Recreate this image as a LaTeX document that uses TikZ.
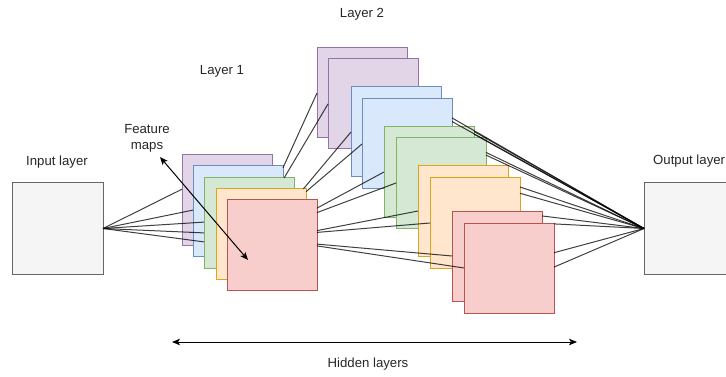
\documentclass[tikz,border=0pt]{standalone}
\usepackage{fontspec}
\setmainfont{Liberation Sans}
\usetikzlibrary{calc,arrows.meta}

\definecolor{grayfill}{HTML}{F5F5F5}
\definecolor{graydraw}{HTML}{666666}
\definecolor{purplefill}{HTML}{E1D5E7}
\definecolor{purpledraw}{HTML}{9673A6}
\definecolor{bluefill}{HTML}{DAE8FC}
\definecolor{bluedraw}{HTML}{6C8EBF}
\definecolor{greenfill}{HTML}{D5E8D4}
\definecolor{greendraw}{HTML}{82B366}
\definecolor{orangefill}{HTML}{FFE6CC}
\definecolor{orangedraw}{HTML}{DCA520}
\definecolor{redfill}{HTML}{F8CECC}
\definecolor{reddraw}{HTML}{B85450}

\tikzset{
  fmap/.style={draw, line width=1pt, anchor=north west, inner sep=0pt, outer sep=0pt,
    minimum width=90pt, minimum height=90pt},
  pmap/.style={fmap, fill=purplefill, draw=purpledraw},
  bmap/.style={fmap, fill=bluefill, draw=bluedraw},
  gmap/.style={fmap, fill=greenfill, draw=greendraw},
  omap/.style={fmap, fill=orangefill, draw=orangedraw},
  rmap/.style={fmap, fill=redfill, draw=reddraw},
  iobox/.style={fmap, fill=grayfill, draw=graydraw, minimum width=91pt, minimum height=91pt},
  link/.style={draw=black, draw opacity=0.75, line width=1pt},
  label/.style={font=\fontsize{13.2}{15.5}\selectfont, text=black!85, inner sep=0pt, align=center},
  tips/.style={line width=1pt, {Stealth[length=8pt,width=6.5pt,inset=2pt]}-{Stealth[length=8pt,width=6.5pt,inset=2pt]}}
}

\begin{document}
\begin{tikzpicture}[x=1pt,y=-1pt]
\path[use as bounding box] (0,0) rectangle (726,377);
\clip (0,0) rectangle (726,377);

% input and output layers
\node[iobox] (in)  at (12,183) {};
\node[iobox] (out) at (644,183) {};

% layer 1 feature maps
\node[pmap] (l1p) at (182,155) {};
\node[bmap] (l1b) at (193,166) {};
\node[gmap] (l1g) at (204,178) {};
\node[omap] (l1o) at (216,189) {};
\node[rmap] (l1r) at (227,200) {};

% layer 2 feature maps
\node[pmap] (l2p1) at (317,48) {};
\node[pmap] (l2p2) at (328,59) {};
\node[bmap] (l2b1) at (351,87) {};
\node[bmap] (l2b2) at (362,99) {};
\node[gmap] (l2g1) at (384,127) {};
\node[gmap] (l2g2) at (396,138) {};
\node[omap] (l2o1) at (418,166) {};
\node[omap] (l2o2) at (430,178) {};
\node[rmap] (l2r1) at (452,211) {};
\node[rmap] (l2r2) at (464,223) {};

% input layer to layer 1
\draw[link] (in.east) -- ($(l1p.north west)!0.38!(l1p.south west)$);
\draw[link] (in.east) -- ($(l1b.north west)!0.49!(l1b.south west)$);
\draw[link] (in.east) -- ($(l1g.north west)!0.49!(l1g.south west)$);
\draw[link] (in.east) -- ($(l1g.north west)!0.61!(l1g.south west)$);
\draw[link] (in.east) -- ($(l1g.north west)!0.71!(l1g.south west)$);

% layer 1 to layer 2
\draw[link] ($(l1b.north east)!0.02!(l1b.south east)$) -- (l2p1.west);
\draw[link] ($(l1g.north west)!0.89!(l1g.north east)$) -- (l2p2.west);
\draw[link] ($(l1o.north west)!0.97!(l1o.north east)$) -- (l2b1.west);
\draw[link] ($(l1o.north east)!0.03!(l1o.south east)$) -- (l2b2.west);
\draw[link] ($(l1r.north east)!0.09!(l1r.south east)$) -- (l2g1.west);
\draw[link] ($(l1r.north east)!0.14!(l1r.south east)$) -- (l2g2.west);
\draw[link] ($(l1r.north east)!0.34!(l1r.south east)$) -- (l2o1.west);
\draw[link] ($(l1r.north east)!0.36!(l1r.south east)$) -- (l2o2.west);
\draw[link] ($(l1r.north east)!0.49!(l1r.south east)$) -- (l2r1.west);
\draw[link] ($(l1r.north east)!0.51!(l1r.south east)$) -- (l2r2.west);

% layer 2 to output layer
\draw[link] ($(l2b2.north east)!0.21!(l2b2.south east)$) -- (out.west);
\draw[link] ($(l2b2.north east)!0.25!(l2b2.south east)$) -- (out.west);
\draw[link] ($(l2g1.north east)!0.05!(l2g1.south east)$) -- (out.west);
\draw[link] ($(l2g1.north east)!0.08!(l2g1.south east)$) -- (out.west);
\draw[link] ($(l2g2.north east)!0.16!(l2g2.south east)$) -- (out.west);
\draw[link] ($(l2g2.north east)!0.19!(l2g2.south east)$) -- (out.west);
\draw[link] ($(l2o2.north east)!0.10!(l2o2.south east)$) -- (out.west);
\draw[link] ($(l2o2.north east)!0.17!(l2o2.south east)$) -- (out.west);
\draw[link] ($(l2r1.north east)!0.055!(l2r1.south east)$) -- (out.west);
\draw[link] ($(l2r2.north east)!0.01!(l2r2.south east)$) -- (out.west);
\draw[link] ($(l2r2.north east)!0.33!(l2r2.south east)$) -- (out.west);
\draw[link] ($(l2r2.north east)!0.49!(l2r2.south east)$) -- (out.west);

% labels
\node[label] (tin)  at (57,162) {Input layer};
\node[label, anchor=west] (tout) at (653,161) {Output layer};
\node[label] (tl1)  at (222,71) {Layer 1};
\node[label] (tl2)  at (362,14) {Layer 2};
\node[label] (tfm)  at (147,138.5) {Feature\\maps};
\node[label] (thid) at (368,364) {Hidden layers};

% feature map pointer
\coordinate (fma) at (160,157);
\coordinate (fmb) at (248,260);
\draw[tips] (fma) -- (fmb);

% hidden layer span
\coordinate (hla) at (172,342);
\coordinate (hlb) at (577,342);
\draw[tips] (hla) -- (hlb);
\end{tikzpicture}
\end{document}
